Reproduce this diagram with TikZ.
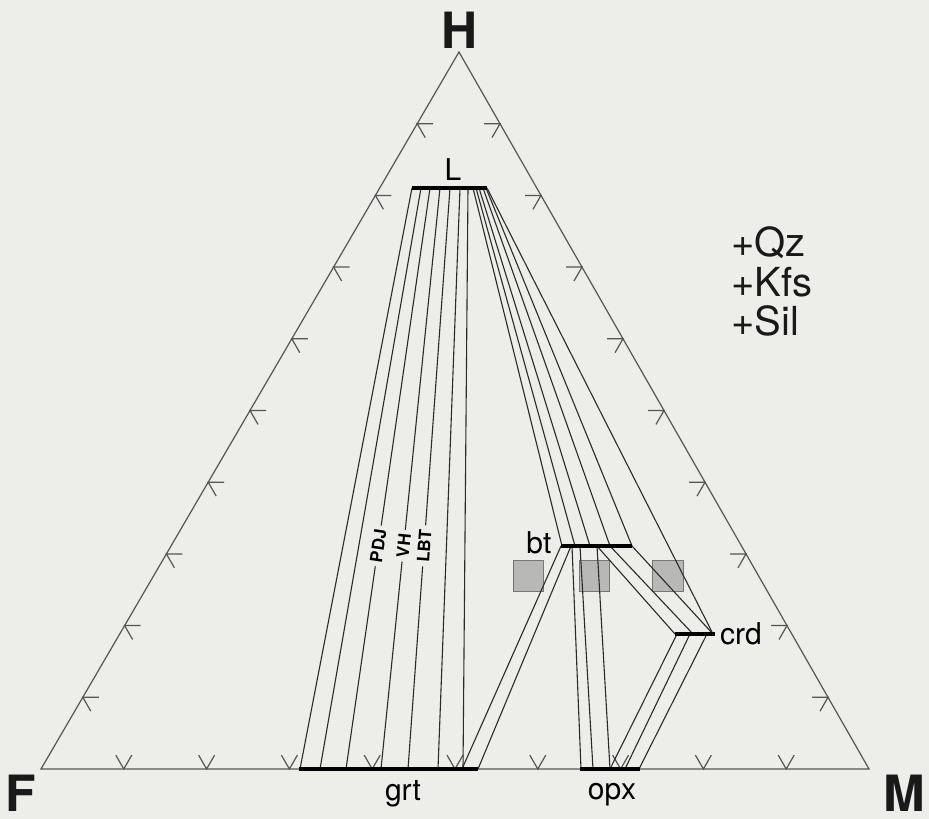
\documentclass[tikz,border=0pt]{standalone}
\usepackage{fontspec}
\setmainfont{TeX Gyre Heros}
\usetikzlibrary{calc}
\definecolor{bgc}{HTML}{EDEDEA}
\definecolor{ink}{HTML}{2A2A2A}
\definecolor{sqfill}{HTML}{B8B8B6}
\definecolor{sqdraw}{HTML}{767676}
\tikzset{
  tri/.style={draw=ink!80, line width=1.2pt},
  tie/.style={draw=ink, line width=1.1pt},
  bar/.style={draw=black, line width=3.2pt},
  sq/.style={fill=sqfill, draw=sqdraw, line width=1pt},
  lab/.style={font=\fontsize{30}{32}\selectfont, text=black, inner sep=0pt},
  corner/.style={font=\fontsize{50}{54}\selectfont\bfseries, text=black!90, inner sep=0pt},
  mini/.style={font=\fontsize{17}{18}\selectfont\bfseries, fill=bgc, inner xsep=4pt, inner ysep=0pt, sloped},
  assem/.style={font=\fontsize{40}{42}\selectfont, text=black!90, inner sep=0pt, anchor=base west}
}
\begin{document}
\begin{tikzpicture}[x=1pt,y=-1pt]
\fill[bgc] (0,0) rectangle (929,819);
\useasboundingbox (0,0) rectangle (929,819);
% vertices
\coordinate (H) at (459,52);
\coordinate (F) at (41,769);
\coordinate (M) at (869,769);
\draw[tri] (H) -- (F) -- (M) -- cycle;
% ticks
\foreach \k in {1,...,9}{
  \pgfmathsetmacro\f{\k/10}
  \coordinate (lt) at ($(H)!\f!(F)$);
  \coordinate (rt) at ($(H)!\f!(M)$);
  \coordinate (bt) at ($(F)!\f!(M)$);
  \draw[tri] ($(lt)+(16,0)$) -- (lt) -- ($(lt)+(8,13.9)$);
  \draw[tri] ($(rt)+(-16,0)$) -- (rt) -- ($(rt)+(-8,13.9)$);
  \draw[tri] ($(bt)+(-8,-13.9)$) -- (bt) -- ($(bt)+(8,-13.9)$);
}
% squares
\draw[sq] (513,560) rectangle (543,591);
\draw[sq] (579,560) rectangle (609,591);
\draw[sq] (652,560) rectangle (683,591);
% L points
\foreach \n/\x in {1/412,2/421,3/430,4/440,5/450,6/460,7/468,8/473,9/476,10/479,11/483,12/486,13/487}
  \coordinate (l\n) at (\x,188);
% grt points
\foreach \n/\x in {1/300,2/320,3/346,4/381,5/408,6/438,7/463,8/462,9/478}
  \coordinate (g\n) at (\x,769);
% bt points
\foreach \n/\x in {1/561,2/562,3/571,4/572,5/575,6/580,7/590,8/597,9/610,10/632}
  \coordinate (b\n) at (\x,546);
% crd points
\foreach \n/\x in {1/675,2/677,3/690,4/693,5/707,6/713}
  \coordinate (c\n) at (\x,634);
% opx points
\foreach \n/\x in {1/581,2/593,3/610,4/625,5/639}
  \coordinate (o\n) at (\x,769);
% L - grt
\draw[tie] (l1) -- (g1);
\draw[tie] (l2) -- (g2);
\draw[tie] (l3) -- (g3);
\draw[tie] (l4) -- (g4);
\draw[tie] (l5) -- (g5);
\draw[tie] (l6) -- (g6);
\draw[tie] (l7) -- (g7);
% L - bt
\draw[tie] (l8) -- (b2);
\draw[tie] (l9) -- (b5);
\draw[tie] (l10) -- (b7);
\draw[tie] (l11) -- (b9);
\draw[tie] (l12) -- (b10);
% L - crd
\draw[tie] (l13) -- (c6);
% bt - grt
\draw[tie] (b1) -- (g8);
\draw[tie] (b3) -- (g9);
% bt - opx
\draw[tie] (b4) -- (o1);
\draw[tie] (b6) -- (o2);
\draw[tie] (b8) -- (o3);
% bt - crd
\draw[tie] (b8) -- (c1);
\draw[tie] (b9) -- (c4);
\draw[tie] (b10) -- (c6);
% crd - opx
\draw[tie] (c2) -- (o3);
\draw[tie] (c3) -- (o4);
\draw[tie] (c5) -- (o5);
% line labels
\path (g3) -- (l3) node[mini, pos=0.384] (pdj) {PDJ};
\path (g4) -- (l4) node[mini, pos=0.384] (vh) {VH};
\path (g5) -- (l5) node[mini, pos=0.384] (lbt) {LBT};
% bars
\draw[bar] (412,188) coordinate (La) -- (487,188) coordinate (Lb);
\draw[bar] (561,546) coordinate (Ba) -- (632,546) coordinate (Bb);
\draw[bar] (675,634) coordinate (Ca) -- (715,634) coordinate (Cb);
\draw[bar] (299,769) coordinate (Ga) -- (478,769) coordinate (Gb);
\draw[bar] (580,769) coordinate (Oa) -- (640,769) coordinate (Ob);
% phase labels
\node[lab, anchor=base] (Llab) at (453,180) {L};
\node[lab, anchor=base] (btlab) at (539,553) {bt};
\node[lab, anchor=west] (crdlab) at (720,634) {crd};
\node[lab, anchor=base] (grtlab) at (403,800) {grt};
\node[lab, anchor=base] (opxlab) at (612,799) {opx};
% corners
\node[corner, anchor=base] (Hlab) at (460,48) {H};
\node[corner, anchor=base] (Flab) at (21,811) {F};
\node[corner, anchor=base] (Mlab) at (904,811) {M};
% assemblage
\node[assem] (qz) at (731,256) {+Qz};
\node[assem] (kfs) at (731,296) {+Kfs};
\node[assem] (sil) at (731,335) {+Sil};
\end{tikzpicture}
\end{document}
